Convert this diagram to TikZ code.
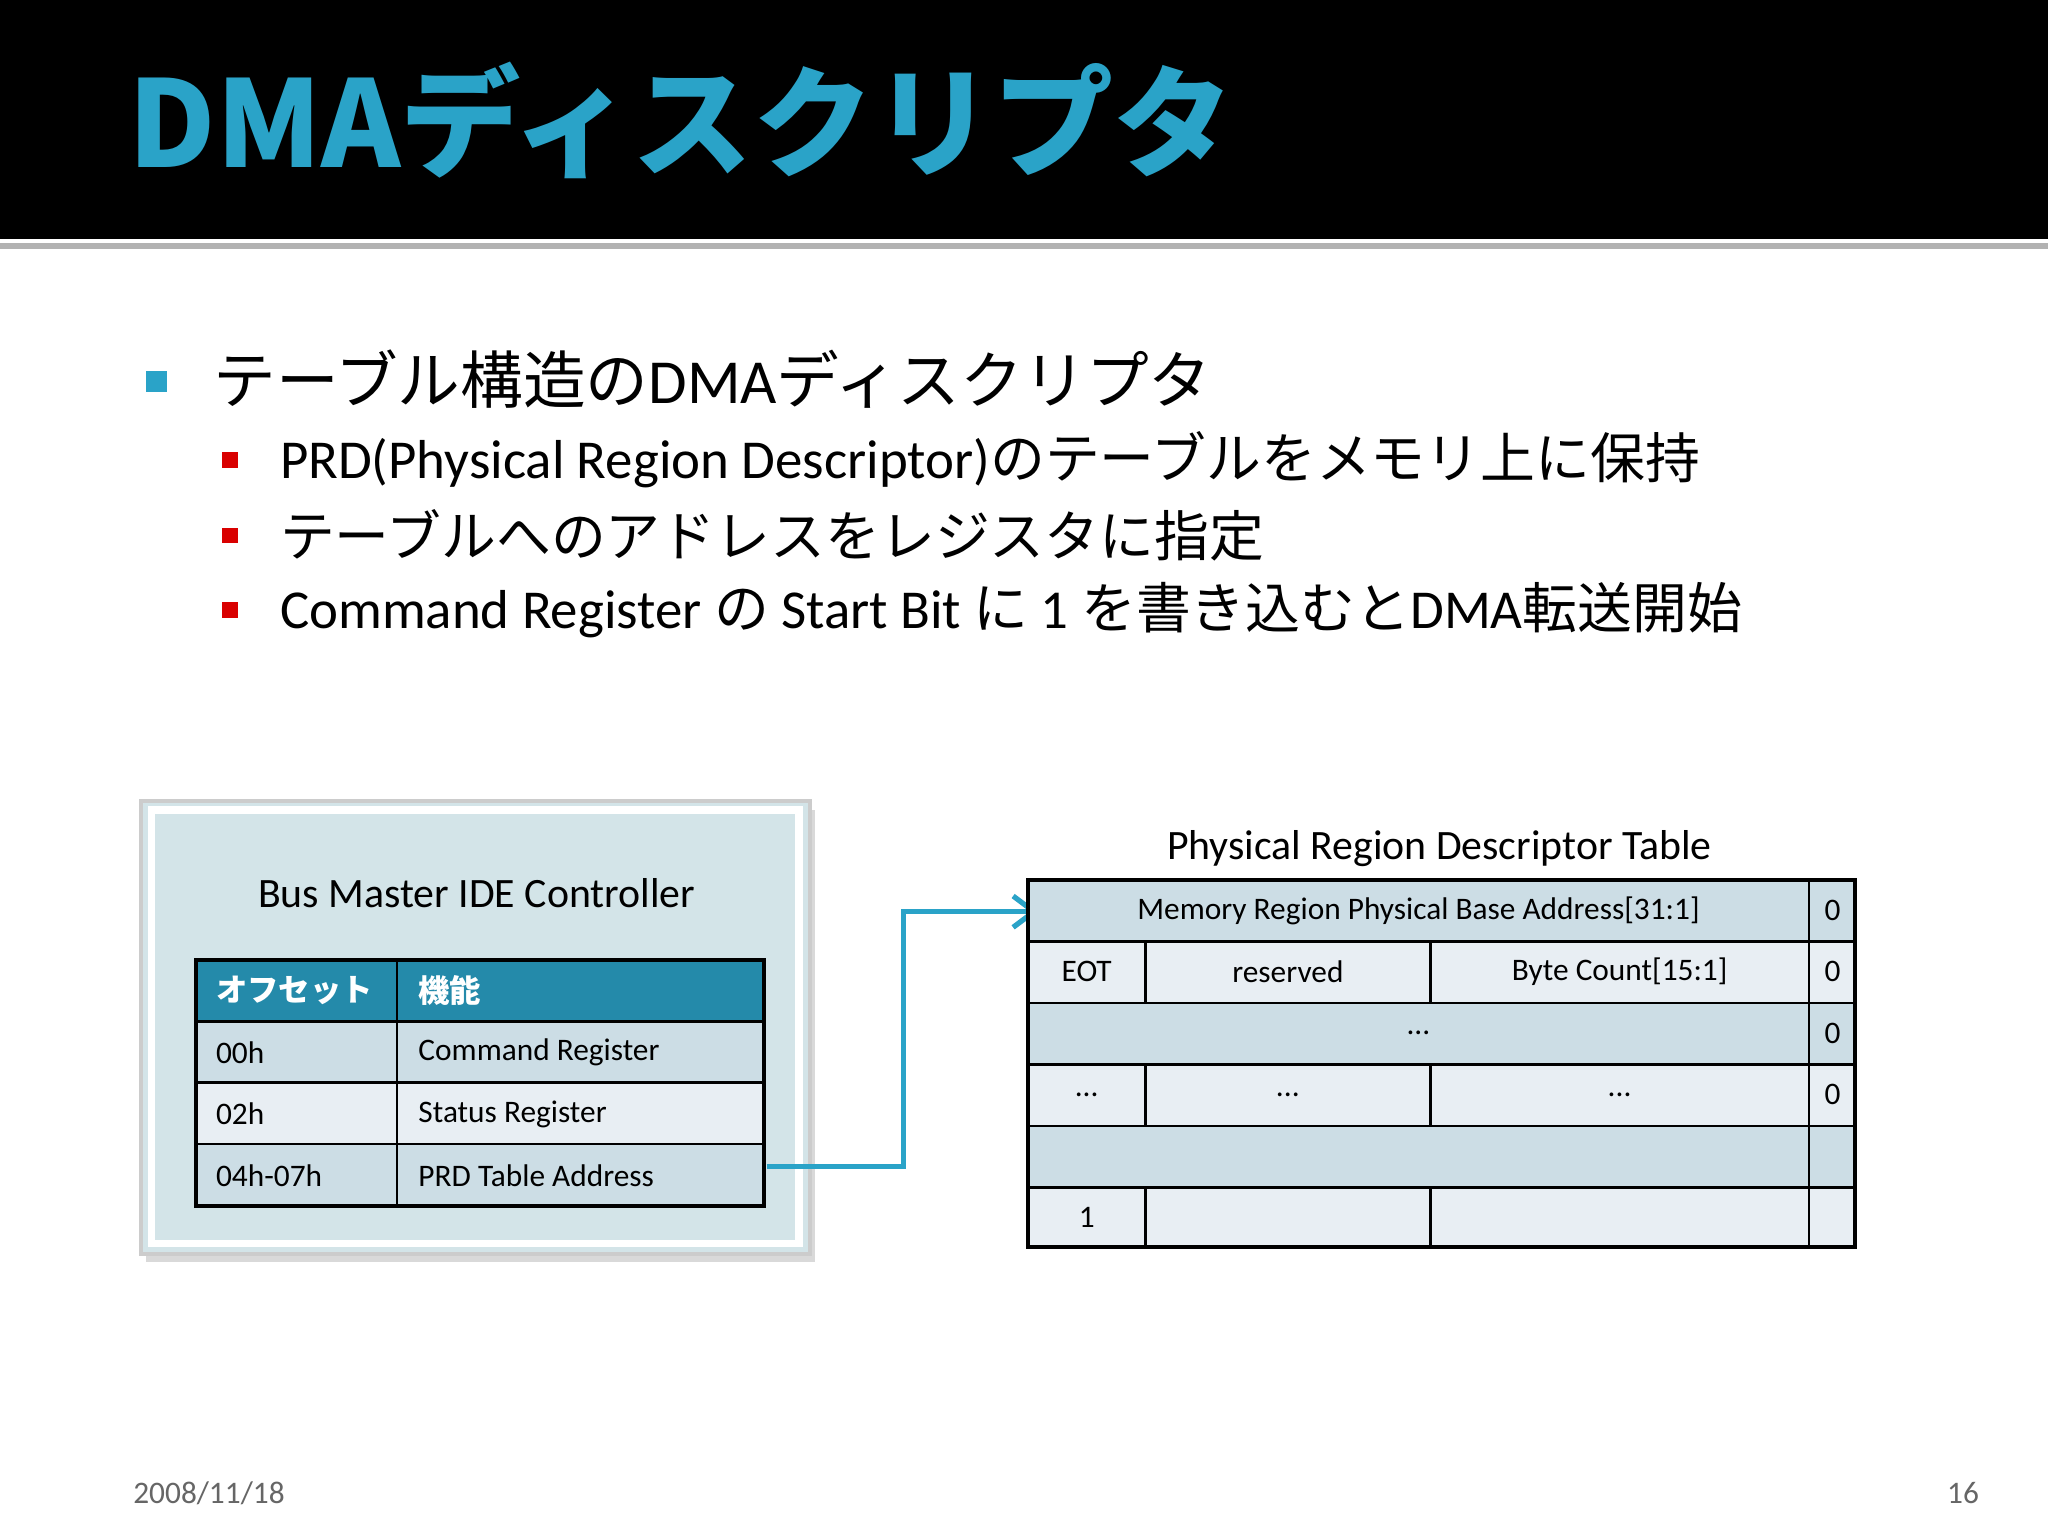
\documentclass[tikz,border=0pt]{standalone}
\usepackage{fontspec}
\setmainfont{Carlito}
\newfontfamily\jp{Noto Sans CJK JP}
\usetikzlibrary{arrows.meta}
\definecolor{cy}{HTML}{2AA3C8}
\definecolor{rowa}{HTML}{CCDDE5}
\definecolor{rowb}{HTML}{E8EEF3}
\definecolor{boxbg}{HTML}{D3E4E8}
\tikzset{cell/.style={draw=black,line width=1pt},
 txt/.style={font=\fontsize{12}{14}\selectfont,inner sep=0pt},
 big/.style={font=\fontsize{24}{28}\selectfont,anchor=west,inner sep=0pt},
 sub/.style={font=\fontsize{21}{25}\selectfont,anchor=west,inner sep=0pt}}
\begin{document}
\begin{tikzpicture}[x=0.5pt,y=-0.5pt]
\useasboundingbox (0,0) rectangle (1568,1176);
\fill[white] (0,0) rectangle (1568,1176);
\fill[black] (0,0) rectangle (1568,183);
\fill[gray!60] (0,186) rectangle (1568,191);
\node[anchor=west,inner sep=0pt,text=cy,font=\jp\bfseries\fontsize{46}{50}\selectfont] (title) at (98,92) {DMAディスクリプタ};
% bullets
\fill[cy] (112,284) rectangle (128,300);
\node[big] (b1) at (163,290) {{\jp テーブル構造の}DMA{\jp ディスクリプタ}};
\fill[red!85!black] (170,346) rectangle (182,358);
\fill[red!85!black] (170,404) rectangle (182,416);
\fill[red!85!black] (170,461) rectangle (182,473);
\node[sub] (s1) at (214,352) {PRD(Physical Region Descriptor){\jp のテーブルをメモリ上に保持}};
\node[sub] (s2) at (214,410) {\jp テーブルへのアドレスをレジスタに指定};
\node[sub] (s3) at (214,467) {Command Register {\jp の} Start Bit {\jp に} 1 {\jp を書き込むと}DMA{\jp 転送開始}};
% left box
\fill[gray!30] (112,620) rectangle (624,966);
\fill[boxbg,draw=gray!40,line width=1.5pt] (108,613) rectangle (620,960);
\draw[white,line width=3pt] (116,620) rectangle (612,952);
\node[font=\fontsize{16}{19}\selectfont,inner sep=0pt] (bmt) at (365,684) {Bus Master IDE Controller};
\fill[cy!85!black] (150,735) rectangle (585,782);
\fill[rowa] (150,782) rectangle (585,829);
\fill[rowb] (150,829) rectangle (585,876);
\fill[rowa] (150,876) rectangle (585,923);
\draw[cell,line width=1.5pt] (150,735) rectangle (585,923);
\foreach \y in {782,829,876} \draw[cell] (150,\y) -- (585,\y);
\draw[cell] (304,735) -- (304,923);
\node[txt,anchor=west,text=white,font=\jp\bfseries\fontsize{12}{14}\selectfont] (h1) at (165,758) {オフセット};
\node[txt,anchor=west,text=white,font=\jp\bfseries\fontsize{12}{14}\selectfont] (h2) at (320,758) {機能};
\node[txt,anchor=west] (r1a) at (165,806) {00h};
\node[txt,anchor=west] (r1b) at (320,806) {Command Register};
\node[txt,anchor=west] (r2a) at (165,853) {02h};
\node[txt,anchor=west] (r2b) at (320,853) {Status Register};
\node[txt,anchor=west] (r3a) at (165,900) {04h-07h};
\node[txt,anchor=west] (r3b) at (320,900) {PRD Table Address};
\coordinate (from) at (587,893);
\coordinate (to) at (795,698);
\draw[cy,line width=2pt,-{Straight Barb[length=8pt,width=12pt]}] (from) -- (692,893) -- (692,698) -- (to);
% right table
\node[font=\fontsize{16}{19}\selectfont,inner sep=0pt] (cap) at (1102,650) {Physical Region Descriptor Table};
\fill[rowa] (787,674) rectangle (1420,721);
\fill[rowb] (787,721) rectangle (1420,768);
\fill[rowa] (787,768) rectangle (1420,815);
\fill[rowb] (787,815) rectangle (1420,862);
\fill[rowa] (787,862) rectangle (1420,909);
\fill[rowb] (787,909) rectangle (1420,955);
\draw[cell,line width=1.5pt] (787,674) rectangle (1420,955);
\foreach \y in {721,768,815,862,909} \draw[cell] (787,\y) -- (1420,\y);
\draw[cell] (1385,674) -- (1385,955);
\foreach \x in {877,1095} {\draw[cell] (\x,721) -- (\x,768); \draw[cell] (\x,815) -- (\x,862); \draw[cell] (\x,909) -- (\x,955);}
\node[txt] (m1) at (1086,697) {Memory Region Physical Base Address[31:1]};
\node[txt] (z1) at (1403,697) {0};
\node[txt] (e1) at (832,744) {EOT};
\node[txt] (e2) at (986,744) {reserved};
\node[txt] (e3) at (1240,744) {Byte Count[15:1]};
\node[txt] (z2) at (1403,744) {0};
\node[txt] (d1) at (1086,791) {...};
\node[txt] (z3) at (1403,791) {0};
\node[txt] (d2) at (832,838) {...};
\node[txt] (d3) at (986,838) {...};
\node[txt] (d4) at (1240,838) {...};
\node[txt] (z4) at (1403,838) {0};
\node[txt] (one) at (832,932) {1};
% footer
\node[txt,text=gray!80!black] (date) at (160,1143) {2008/11/18};
\node[txt,text=gray!80!black] (pg) at (1503,1143) {16};
\end{tikzpicture}
\end{document}
